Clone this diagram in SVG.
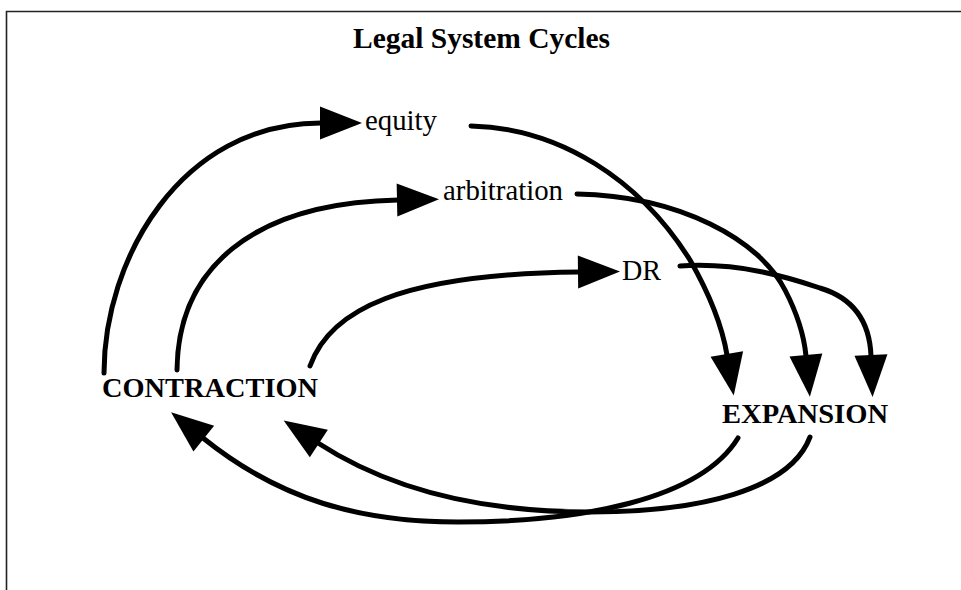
<svg xmlns="http://www.w3.org/2000/svg" width="961" height="590" viewBox="0 0 961 590">
  <style>
    .title { font-family: "Liberation Serif", "Times New Roman", serif; font-weight: bold; font-size: 29px; fill: #000; }
    .lbl { font-family: "Liberation Serif", "Times New Roman", serif; font-size: 30px; fill: #000; }
    .big { font-family: "Liberation Serif", "Times New Roman", serif; font-weight: bold; font-size: 28px; fill: #000; }
    .edge { fill: none; stroke: #000; stroke-width: 5; stroke-linecap: round; marker-end: url(#ah); }
    .frame { fill: none; stroke: #222; stroke-width: 1.6; }
  </style>
  <defs>
    <marker id="ah" markerUnits="userSpaceOnUse" markerWidth="43" markerHeight="33" refX="1" refY="16.5" orient="auto" overflow="visible">
      <path d="M0,0 L42,16.5 L0,33 Z" fill="#000"/>
    </marker>
  </defs>
  <rect width="961" height="590" fill="#fff"/>
  <g id="frame">
    <path class="frame" d="M6.5,590 L6.5,11.5 L961,11.5"/>
  </g>
  <g id="title">
    <text class="title" x="353" y="48" textLength="257" lengthAdjust="spacingAndGlyphs">Legal System Cycles</text>
  </g>
  <g id="node-equity"><text class="lbl" x="365" y="130" textLength="72" lengthAdjust="spacingAndGlyphs">equity</text></g>
  <g id="node-arbitration"><text class="lbl" x="443" y="200" textLength="120" lengthAdjust="spacingAndGlyphs">arbitration</text></g>
  <g id="node-dr"><text class="lbl" x="622" y="280" textLength="39" lengthAdjust="spacingAndGlyphs">DR</text></g>
  <g id="node-contraction"><text class="big" x="102" y="397" textLength="216" lengthAdjust="spacingAndGlyphs">CONTRACTION</text></g>
  <g id="node-expansion"><text class="big" x="722" y="423" textLength="166" lengthAdjust="spacingAndGlyphs">EXPANSION</text></g>
  <g id="connectors">
    <path class="edge" d="M104,373 C104,260 180,123 321,123"/>
    <path class="edge" d="M177,370 C178,270 250,203 398,200"/>
    <path class="edge" d="M310,366 C330,310 400,274 579,272"/>
    <path class="edge" d="M471,126 C560,128 640,180 690,260 C710,295 722,325 727,355"/>
    <path class="edge" d="M577,194 C680,196 760,240 785,290 C798,315 804,335 806,356"/>
    <path class="edge" d="M680,266 C740,262 790,278 820,288 C860,300 870,330 871,356"/>
    <path class="edge" d="M738,438 C700,500 580,522 458,522 C360,522 280,500 203,438"/>
    <path class="edge" d="M810,437 C790,490 700,512 590,512 C480,512 390,490 318,443"/>
  </g>
</svg>
